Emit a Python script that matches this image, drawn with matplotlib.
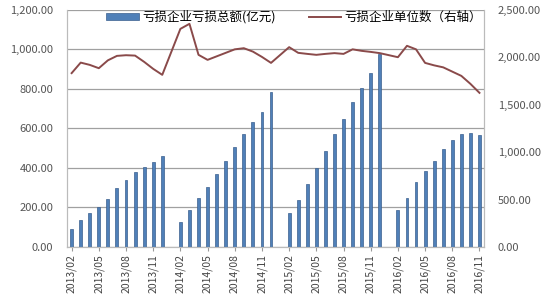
import matplotlib
matplotlib.use("Agg")
import matplotlib.pyplot as plt
import numpy as np
from matplotlib.ticker import FuncFormatter

plt.rcParams['font.family'] = ['Noto Sans CJK SC', 'DejaVu Sans']

months = []
for y in range(2013, 2017):
    for m in range(1, 13):
        if (y == 2013 and m < 2) or (y == 2016 and m > 11):
            continue
        months.append(f"{y}/{m:02d}")

# loss totals (100 million yuan); None for January (no data)
loss_total = [
    90, 135, 174, 201, 245, 297, 339, 380, 407, 429, 461,          # 2013/02-12
    None, 128, 186, 250, 304, 371, 435, 506, 570, 631, 685, 786,   # 2014
    None, 170, 238, 317, 401, 487, 570, 649, 735, 803, 879, 977,   # 2015
    None, 187, 246, 327, 385, 435, 496, 541, 572, 575, 567,        # 2016/01-11
]
# number of loss-making enterprises (right axis)
loss_units = [
    1833, 1944, 1920, 1885, 1968, 2015, 2022, 2018, 1952, 1878, 1815,
    None, 2300, 2353, 2026, 1973, 2010, 2047, 2084, 2096, 2060, 2004, 1941,
    None, 2107, 2047, 2036, 2026, 2036, 2044, 2036, 2084, 2068, 2057, 2044,
    None, 2001, 2121, 2084, 1941, 1915, 1894, 1849, 1804, 1720, 1625,
]

bar_label = '亏损企业亏损总额(亿元)'
line_label = '亏损企业单位数（右轴）'

fig = plt.figure(figsize=(5.5, 3.0), dpi=100)
ax = fig.add_axes([0.122, 0.177, 0.758, 0.79])
ax2 = ax.twinx()

idx = np.arange(len(months))
bx = [i for i, v in zip(idx, loss_total) if v is not None]
bv = [v for v in loss_total if v is not None]
lx = [i for i, v in zip(idx, loss_units) if v is not None]
lv = [v for v in loss_units if v is not None]

bars = ax.bar(bx, bv, width=0.32, color='#5080B8', edgecolor='#3A5F8E', linewidth=0.5,
              label=bar_label, zorder=3)
line, = ax2.plot(lx, lv, color='#8A4A4A', linewidth=1.4, label=line_label, zorder=4)

ax.set_xlim(-0.5, len(months) - 0.5)
ax.set_ylim(0, 1200)
ax2.set_ylim(0, 2500)
ax.set_yticks(np.arange(0, 1201, 200))
ax2.set_yticks(np.arange(0, 2501, 500))
fmt = FuncFormatter(lambda v, p: f"{v:,.2f}")
ax.yaxis.set_major_formatter(fmt)
ax2.yaxis.set_major_formatter(fmt)

ax.set_xticks(idx[::3])
ax.set_xticklabels(months[::3], rotation=90, fontsize=7.5, color='#444444')
ax.tick_params(axis='x', which='major', length=3, color='#999999', pad=2)
ax.tick_params(axis='y', length=0, labelsize=8, colors='#555555', pad=10)
ax2.tick_params(axis='y', length=0, labelsize=8, colors='#555555', pad=10)

ax.grid(axis='y', color='#A0A0A0', linewidth=0.9, zorder=0)
ax.set_axisbelow(True)
for a in (ax, ax2):
    a.spines['top'].set_visible(False)
    for s in ('left', 'right', 'bottom'):
        a.spines[s].set_color('#BBBBBB')
        a.spines[s].set_linewidth(0.8)

ax.legend([bars, line], [bar_label, line_label], loc='upper center', ncol=2,
          bbox_to_anchor=(0.545, 1.045), frameon=False, fontsize=9,
          handlelength=2.6, columnspacing=2.6, handleheight=0.45, handletextpad=0.3)

fig.savefig('out.png', dpi=100)
